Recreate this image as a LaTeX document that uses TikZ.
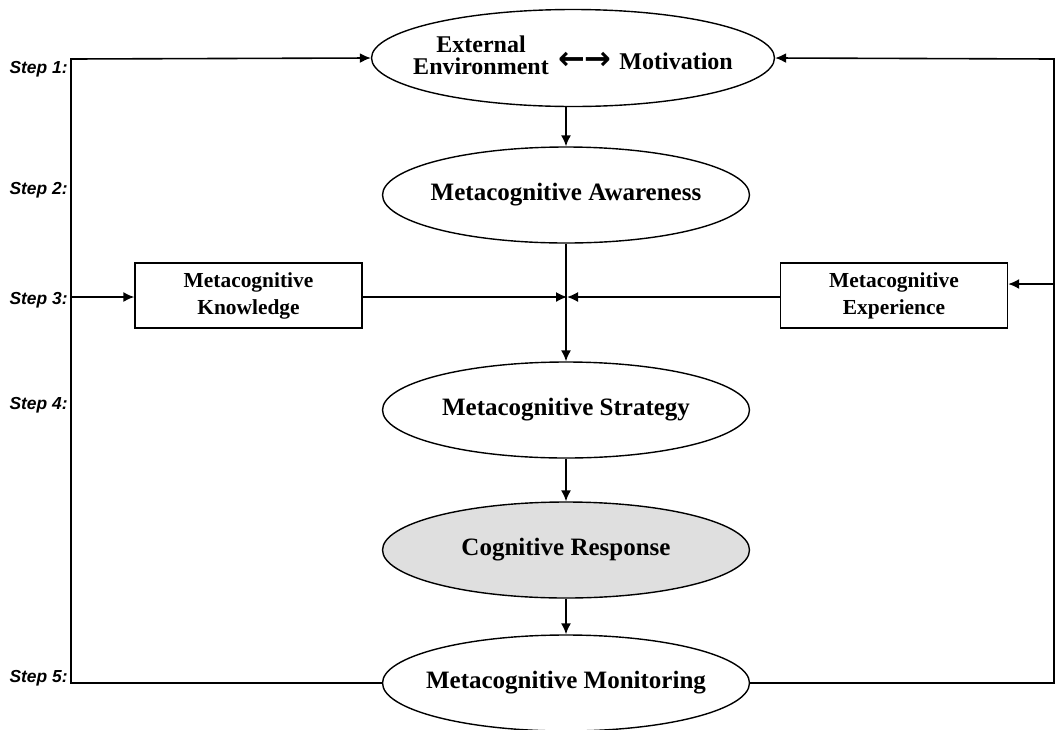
\documentclass[tikz,border=0pt]{standalone}
\usepackage{fontspec}
\setmainfont{Liberation Serif}
\setsansfont{Liberation Sans}
\newfontfamily\arrowfont{DejaVu Sans}
\usetikzlibrary{shapes.geometric, arrows.meta}

\tikzset{
	stage/.style={ellipse, draw, line width=0.7pt, inner xsep=-10pt, inner ysep=0pt, minimum width=183.5pt, minimum height=48pt, font=\fontsize{12.5}{14}\selectfont\bfseries},
	infobox/.style={rectangle, draw, line width=0.7pt, minimum width=113.5pt, minimum height=32.5pt, align=center, font=\fontsize{10.7}{13.5}\selectfont\bfseries},
	steplbl/.style={anchor=east, inner sep=1pt, font=\sffamily\bfseries\itshape\fontsize{8.7}{10}\selectfont},
	link/.style={line width=0.8pt, >={Latex[length=5.5pt,width=5pt]}}
}

\begin{document}
\begin{tikzpicture}[x=0.5pt, y=-0.5pt]
	\useasboundingbox (0,0) rectangle (1055,729);

	% stages down the middle
	\node[stage, minimum width=201.5pt, minimum height=48.5pt, font=\fontsize{12}{10}\selectfont\bfseries](ext) at (573,58)
		{\begin{tabular}{@{}c@{}}External\\Environment\end{tabular}\hspace{5pt}\raisebox{-2.5pt}{{\arrowfont\fontsize{16}{16}\selectfont ←\kern-0.5pt→}\hspace{4pt}Motivation}};
	\node[stage](aware) at (566,195) {Metacognitive Awareness};
	\node[stage](strat) at (566,410) {Metacognitive Strategy};
	\node[stage, fill=gray!25](resp) at (566,550) {Cognitive Response};
	\node[stage](monit) at (566,683) {Metacognitive Monitoring};

	\node[infobox](know) at (248.5,295.5) {Metacognitive\\Knowledge};
	\node[infobox](exper) at (894,295.5) {Metacognitive\\Experience};

	\coordinate(j) at (567,297);
	\coordinate(l1) at (71,59);
	\coordinate(l3) at (71,297);
	\coordinate(l5) at (71,683);
	\coordinate(r1) at (1054,59);
	\coordinate(r3) at (1054,284);
	\coordinate(r5) at (1054,683);

	% step labels
	\node[steplbl](s1) at (70,69) {Step 1:};
	\node[steplbl](s2) at (70,190) {Step 2:};
	\node[steplbl](s3) at (70,300) {Step 3:};
	\node[steplbl](s4) at (70,405) {Step 4:};
	\node[steplbl](s5) at (70,678) {Step 5:};

	\draw[->,link](aware.north |- ext.south) -- (aware.north);
	\draw[->,link](aware.south) -- (strat.north);
	\draw[->,link](know.east |- j) -- (j);
	\draw[->,link](exper.west |- j) -- (j);
	\draw[->,link](strat.south) -- (resp.north);
	\draw[->,link](resp.south) -- (monit.north);

	% feedback loops
	\draw[->,link](monit.west) -- (l5) -- (l1) -- (ext.west);
	\draw[->,link](l3) -- (know.west |- l3);
	\draw[->,link](monit.east) -- (r5) -- (r1) -- (ext.east);
	\draw[->,link](r3) -- (exper.east |- r3);
\end{tikzpicture}
\end{document}
